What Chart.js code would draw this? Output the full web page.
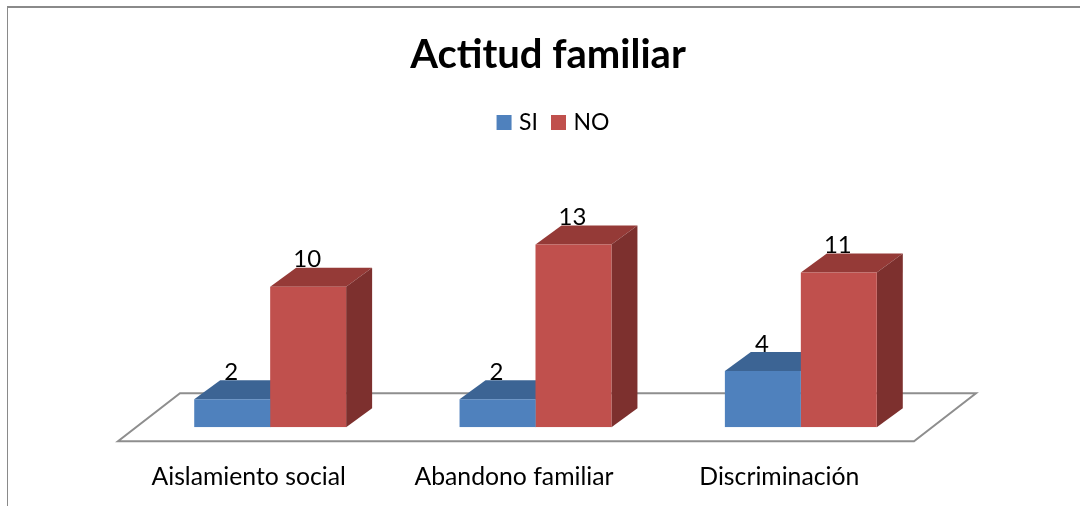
<!DOCTYPE html>
<html>
<head>
<meta charset="utf-8">
<title>Actitud familiar</title>
<script src="https://cdn.jsdelivr.net/npm/chart.js@4"></script>
<style>
  html, body { margin: 0; padding: 0; background: #fff; overflow: hidden; }
  #frame { position: absolute; left: 7px; top: 6px; right: 0; bottom: 0; border-top: 2px solid #8a8a8a; border-left: 1px solid #8a8a8a; }
  #chart { position: absolute; left: 0; top: 0; }
</style>
</head>
<body>
<div id="frame"></div>
<canvas id="chart" width="1080" height="506"></canvas>
<script>
// Chart data
var categories = ['Aislamiento social', 'Abandono familiar', 'Discriminación'];
var valuesSi = [2, 2, 4];
var valuesNo = [10, 13, 11];
var seriesNames = ['SI', 'NO'];

// Colours of the front, top and side faces
var frontColors = ['#4f81bd', '#c0504d'];
var topColors = ['#3c6494', '#953a37'];
var sideColors = ['#375b87', '#7d302e'];

// 3D look: how far bars stand off the floor edge, and how deep bars and floor go
var barShift = { x: 19.5, y: -14 };
var barDepth = { x: 26, y: -19 };
var floorDepth = { x: 62, y: -48 };

function face(ctx, points, color) {
  ctx.beginPath();
  ctx.moveTo(points[0][0], points[0][1]);
  for (var i = 1; i < points.length; i++) {
    ctx.lineTo(points[i][0], points[i][1]);
  }
  ctx.closePath();
  ctx.fillStyle = color;
  ctx.fill();
}

var fake3d = {
  id: 'fake3d',
  afterLayout: function (chart) {
    // Title and legend sit right of the plot centre in the reference
    chart.titleBlock.left += 32;
    chart.titleBlock.right += 32;
    chart.legend.left += 39;
    chart.legend.right += 39;
    chart.legend.top -= 2;
    chart.legend.bottom -= 2;
  },
  beforeDatasetsDraw: function (chart) {
    var ctx = chart.ctx;
    var area = chart.chartArea;

    // Floor, its front edge sits on the x axis
    ctx.save();
    ctx.beginPath();
    ctx.moveTo(area.left, area.bottom);
    ctx.lineTo(area.right, area.bottom);
    ctx.lineTo(area.right + floorDepth.x, area.bottom + floorDepth.y);
    ctx.lineTo(area.left + floorDepth.x, area.bottom + floorDepth.y);
    ctx.closePath();
    ctx.lineWidth = 2;
    ctx.strokeStyle = '#8e8e8e';
    ctx.stroke();
    ctx.restore();

    // Everything in the datasets moves back onto the floor
    ctx.save();
    ctx.translate(barShift.x, barShift.y);

    // Top and side faces go behind the fronts the library draws
    chart.data.datasets.forEach(function (ds, d) {
      chart.getDatasetMeta(d).data.forEach(function (bar) {
        var l = bar.x - bar.width / 2;
        var r = bar.x + bar.width / 2;
        face(ctx, [[l, bar.y], [r, bar.y], [r + barDepth.x, bar.y + barDepth.y], [l + barDepth.x, bar.y + barDepth.y]], topColors[d]);
        face(ctx, [[r, bar.y], [r + barDepth.x, bar.y + barDepth.y], [r + barDepth.x, bar.base + barDepth.y], [r, bar.base]], sideColors[d]);
      });
    });
  },
  afterDatasetsDraw: function (chart) {
    var ctx = chart.ctx;
    ctx.restore();

    // Value labels over each bar
    ctx.save();
    ctx.font = '24px Lato';
    ctx.fillStyle = '#000';
    ctx.textAlign = 'center';
    ctx.textBaseline = 'middle';
    chart.data.datasets.forEach(function (ds, d) {
      chart.getDatasetMeta(d).data.forEach(function (bar, i) {
        ctx.fillText(String(ds.data[i]), bar.x + barShift.x - 1, bar.y + barShift.y - 27);
      });
    });
    ctx.restore();
  }
};

new Chart(document.getElementById('chart'), {
  type: 'bar',
  data: {
    labels: categories,
    datasets: [
      { label: seriesNames[0], data: valuesSi, backgroundColor: frontColors[0] },
      { label: seriesNames[1], data: valuesNo, backgroundColor: frontColors[1] }
    ]
  },
  plugins: [fake3d],
  options: {
    responsive: false,
    animation: false,
    layout: { padding: { left: 118, right: 166, top: 0, bottom: 1 } },
    plugins: {
      tooltip: { enabled: false },
      title: {
        display: true,
        text: 'Actitud familiar',
        color: '#000',
        font: { family: 'Lato', size: 40, weight: 'bold' },
        padding: { top: 31, bottom: 17 }
      },
      legend: {
        display: true,
        position: 'top',
        labels: {
          color: '#000',
          font: { family: 'Lato', size: 23 },
          usePointStyle: true,
          pointStyle: 'rect',
          boxWidth: 7,
          boxHeight: 15,
          padding: 17
        }
      }
    },
    scales: {
      x: {
        grid: { display: false },
        border: { display: false },
        ticks: { color: '#000', font: { family: 'Lato', size: 24.75 }, padding: 13, maxRotation: 0, labelOffset: -2 }
      },
      y: { display: false, min: 0, max: 21 }
    },
    datasets: { bar: { categoryPercentage: 0.5725, barPercentage: 1 } }
  }
});
</script>
</body>
</html>
